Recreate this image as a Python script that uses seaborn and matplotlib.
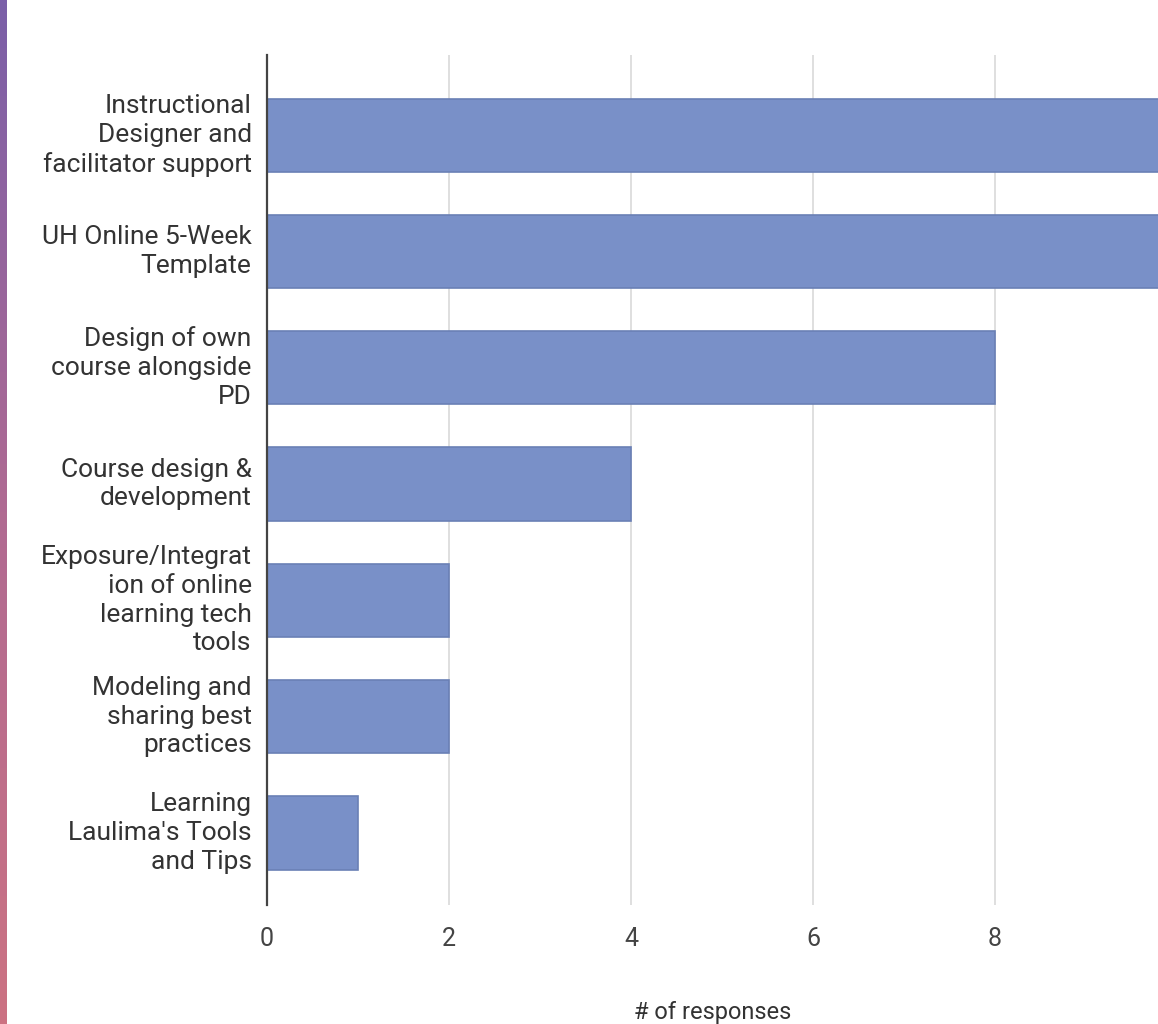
import numpy as np
import pandas as pd
import matplotlib
matplotlib.use("Agg")
import matplotlib.pyplot as plt
import matplotlib.transforms as mtransforms
import seaborn as sns
from matplotlib.colors import LinearSegmentedColormap

categories = [
    "Instructional\nDesigner and\nfacilitator support",
    "UH Online 5-Week\nTemplate",
    "Design of own\ncourse alongside\nPD",
    "Course design &\ndevelopment",
    "Exposure/Integrat\nion of online\nlearning tech\ntools",
    "Modeling and\nsharing best\npractices",
    "Learning\nLaulima's Tools\nand Tips",
]
responses = [10, 10, 8, 4, 2, 2, 1]
x_ticks = [0, 2, 4, 6, 8]
x_label = "# of responses"

df = pd.DataFrame({"category": categories, "responses": responses})

sns.set_theme(style="white")
plt.rcParams['font.family'] = ['Roboto', 'DejaVu Sans']

fig = plt.figure(figsize=(11.58, 10.24), dpi=100)
fig.patch.set_facecolor("white")

# left gradient strip
strip = fig.add_axes([0, 0, 7 / 1158, 1])
grad = np.linspace(0, 1, 256).reshape(-1, 1)
cmap = LinearSegmentedColormap.from_list("strip", ["#7a5fa8", "#b06a92", "#cc7282"])
strip.imshow(grad, aspect="auto", cmap=cmap, extent=[0, 1, 1, 0])
strip.set_axis_off()

ax = fig.add_axes([267 / 1158, 1 - 905 / 1024, 1 - 267 / 1158, (905 - 55) / 1024])
sns.barplot(data=df, x="responses", y="category", orient="h", color="#7990c8",
            saturation=1, width=0.63, edgecolor="#6a80b5", linewidth=1.2, ax=ax)

ax.set_xlim(0, 9.79)
ax.set_ylim(6.62, -0.69)
ax.set_xticks(x_ticks)
ax.set_xticklabels([str(t) for t in x_ticks])
ax.xaxis.grid(True, color="#d9d9d9", linewidth=1.2)
ax.set_axisbelow(True)
for s in ["top", "right", "bottom"]:
    ax.spines[s].set_visible(False)
ax.spines["left"].set_color("#444444")
ax.spines["left"].set_linewidth(1.6)
ax.tick_params(axis="y", length=0, pad=11, labelsize=19, labelcolor="#333333")
shift = mtransforms.ScaledTranslation(0, 5 / 100, fig.dpi_scale_trans)
for lbl in ax.get_yticklabels():
    lbl.set_linespacing(1.25)
    lbl.set_transform(lbl.get_transform() + shift)
ax.tick_params(axis="x", length=0, pad=16, labelsize=18, labelcolor="#444444")
ax.set_ylabel("")
ax.set_xlabel(x_label, fontsize=17, color="#333333", labelpad=36)

fig.savefig("out.png", dpi=100)
